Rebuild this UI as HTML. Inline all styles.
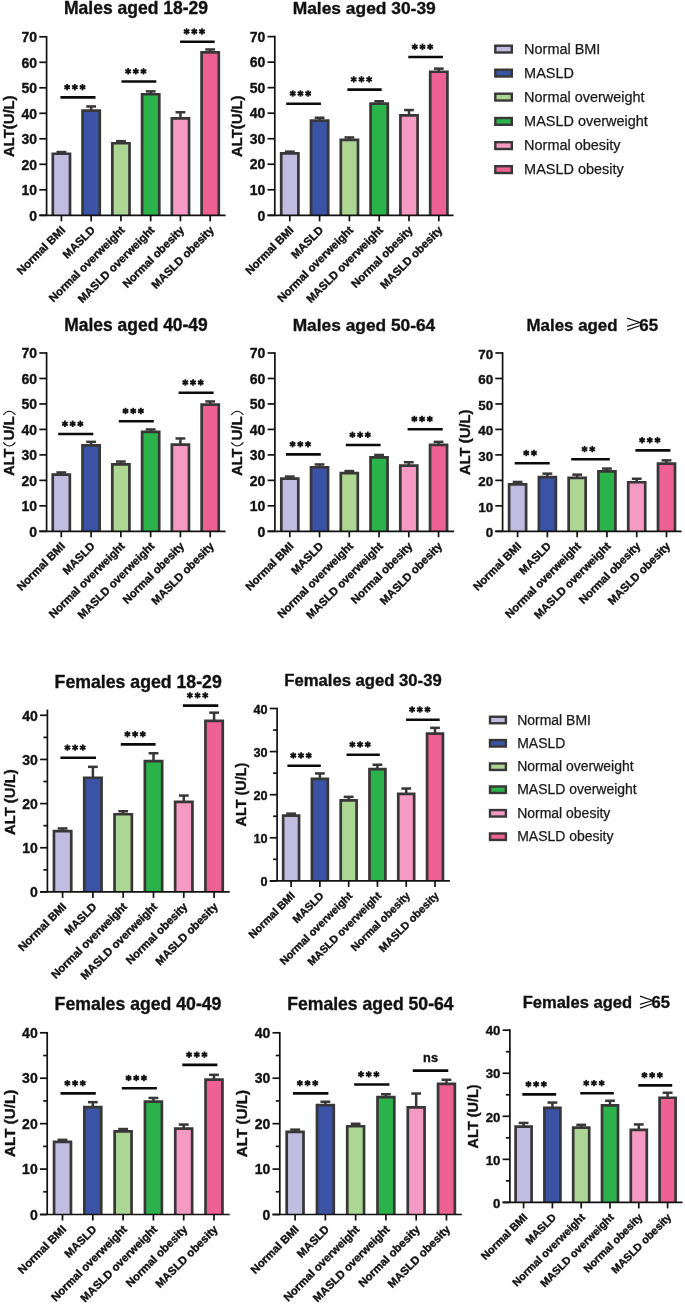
<!DOCTYPE html>
<html><head><meta charset="utf-8"><style>
html,body{margin:0;padding:0;background:#fff;}
body{width:685px;height:1305px;overflow:hidden;}
svg{display:block;will-change:transform;}
text{font-family:"Liberation Sans", sans-serif;fill:#111;stroke:#111;stroke-width:0.35px;}
.ttl{font-size:17.5px;font-weight:bold;}
.yl{font-size:15.2px;font-weight:bold;}
.geq{fill:none;stroke:#111;stroke-width:1.15;stroke-linejoin:miter;}
.fwp{fill:none;stroke:#111;stroke-width:1.1;}
.xl{font-size:11.3px;font-weight:bold;}
.tk{font-size:14px;font-weight:bold;}
.ns{font-size:12.8px;font-weight:bold;}
.lg{font-weight:normal;fill:#1a1a1a;stroke:#1a1a1a;stroke-width:0.25px;}
.ax{stroke:#111;stroke-width:1.7;fill:none;}
.eb{stroke:#383636;stroke-width:2.5;}
.sig{stroke:#0a0a0a;stroke-width:2.6;}
.st line{stroke:#111;stroke-width:1.8;}
</style></head><body>
<svg width="685" height="1305" viewBox="0 0 685 1305">
<rect width="685" height="1305" fill="#fff"/>
<g><text class="ttl" x="63.97" y="14.3" style="font-size:17.52px">Males aged 18-29</text><text class="yl" transform="translate(14.4,126.2) rotate(-90)" text-anchor="middle" style="font-size:14.84px">ALT(U/L)</text><line class="eb" x1="61.4" y1="152.05" x2="61.4" y2="153.75"/><line class="eb" x1="56.5" y1="152.05" x2="66.3" y2="152.05"/><rect x="52.8" y="153.75" width="17.2" height="61.55" fill="#c0bde1"/><path d="M52.8,215.3 V153.75 H70 V215.3" fill="none" stroke="#383636" stroke-width="2.7" stroke-linejoin="miter"/><line class="ax" x1="61.4" y1="215.3" x2="61.4" y2="221.3"/><text class="xl" transform="translate(65.9,230.8) rotate(-45)" text-anchor="end" style="font-size:11.3px">Normal BMI</text><line class="eb" x1="91.16" y1="106.45" x2="91.16" y2="110.65"/><line class="eb" x1="86.26" y1="106.45" x2="96.06" y2="106.45"/><rect x="82.56" y="110.65" width="17.2" height="104.65" fill="#3a53a4"/><path d="M82.56,215.3 V110.65 H99.76 V215.3" fill="none" stroke="#383636" stroke-width="2.7" stroke-linejoin="miter"/><line class="ax" x1="91.16" y1="215.3" x2="91.16" y2="221.3"/><text class="xl" transform="translate(95.66,230.8) rotate(-45)" text-anchor="end" style="font-size:11.3px">MASLD</text><line class="eb" x1="120.92" y1="141.15" x2="120.92" y2="143.25"/><line class="eb" x1="116.02" y1="141.15" x2="125.82" y2="141.15"/><rect x="112.32" y="143.25" width="17.2" height="72.05" fill="#add593"/><path d="M112.32,215.3 V143.25 H129.52 V215.3" fill="none" stroke="#383636" stroke-width="2.7" stroke-linejoin="miter"/><line class="ax" x1="120.92" y1="215.3" x2="120.92" y2="221.3"/><text class="xl" transform="translate(125.42,230.8) rotate(-45)" text-anchor="end" style="font-size:11.3px">Normal overweight</text><line class="eb" x1="150.68" y1="91.35" x2="150.68" y2="94.25"/><line class="eb" x1="145.78" y1="91.35" x2="155.58" y2="91.35"/><rect x="142.08" y="94.25" width="17.2" height="121.05" fill="#2bb24a"/><path d="M142.08,215.3 V94.25 H159.28 V215.3" fill="none" stroke="#383636" stroke-width="2.7" stroke-linejoin="miter"/><line class="ax" x1="150.68" y1="215.3" x2="150.68" y2="221.3"/><text class="xl" transform="translate(155.18,230.8) rotate(-45)" text-anchor="end" style="font-size:11.3px">MASLD overweight</text><line class="eb" x1="180.44" y1="112.25" x2="180.44" y2="118.45"/><line class="eb" x1="175.54" y1="112.25" x2="185.34" y2="112.25"/><rect x="171.84" y="118.45" width="17.2" height="96.85" fill="#f59ac3"/><path d="M171.84,215.3 V118.45 H189.04 V215.3" fill="none" stroke="#383636" stroke-width="2.7" stroke-linejoin="miter"/><line class="ax" x1="180.44" y1="215.3" x2="180.44" y2="221.3"/><text class="xl" transform="translate(184.94,230.8) rotate(-45)" text-anchor="end" style="font-size:11.3px">Normal obesity</text><line class="eb" x1="210.2" y1="49.45" x2="210.2" y2="52.35"/><line class="eb" x1="205.3" y1="49.45" x2="215.1" y2="49.45"/><rect x="201.6" y="52.35" width="17.2" height="162.95" fill="#ee6293"/><path d="M201.6,215.3 V52.35 H218.8 V215.3" fill="none" stroke="#383636" stroke-width="2.7" stroke-linejoin="miter"/><line class="ax" x1="210.2" y1="215.3" x2="210.2" y2="221.3"/><text class="xl" transform="translate(214.7,230.8) rotate(-45)" text-anchor="end" style="font-size:11.3px">MASLD obesity</text><line class="ax" x1="46.6" y1="35.95" x2="46.6" y2="215.3"/><line class="ax" x1="39.3" y1="215.3" x2="225.6" y2="215.3"/><line class="ax" x1="39.3" y1="215.3" x2="46.6" y2="215.3"/><text class="tk" x="37.1" y="220.5" text-anchor="end" style="font-size:14px">0</text><line class="ax" x1="39.3" y1="189.8" x2="46.6" y2="189.8"/><text class="tk" x="37.1" y="195" text-anchor="end" style="font-size:14px">10</text><line class="ax" x1="39.3" y1="164.3" x2="46.6" y2="164.3"/><text class="tk" x="37.1" y="169.5" text-anchor="end" style="font-size:14px">20</text><line class="ax" x1="39.3" y1="138.8" x2="46.6" y2="138.8"/><text class="tk" x="37.1" y="144" text-anchor="end" style="font-size:14px">30</text><line class="ax" x1="39.3" y1="113.3" x2="46.6" y2="113.3"/><text class="tk" x="37.1" y="118.5" text-anchor="end" style="font-size:14px">40</text><line class="ax" x1="39.3" y1="87.8" x2="46.6" y2="87.8"/><text class="tk" x="37.1" y="93" text-anchor="end" style="font-size:14px">50</text><line class="ax" x1="39.3" y1="62.3" x2="46.6" y2="62.3"/><text class="tk" x="37.1" y="67.5" text-anchor="end" style="font-size:14px">60</text><line class="ax" x1="39.3" y1="36.8" x2="46.6" y2="36.8"/><text class="tk" x="37.1" y="42" text-anchor="end" style="font-size:14px">70</text><line class="sig" x1="60.4" y1="97.4" x2="95.5" y2="97.4"/><g class="st"><line x1="67.15" y1="84" x2="67.15" y2="90.4"/><line x1="64.38" y1="85.6" x2="69.92" y2="88.8"/><line x1="69.92" y1="85.6" x2="64.38" y2="88.8"/><line x1="74.85" y1="84" x2="74.85" y2="90.4"/><line x1="72.08" y1="85.6" x2="77.62" y2="88.8"/><line x1="77.62" y1="85.6" x2="72.08" y2="88.8"/><line x1="82.55" y1="84" x2="82.55" y2="90.4"/><line x1="79.78" y1="85.6" x2="85.32" y2="88.8"/><line x1="85.32" y1="85.6" x2="79.78" y2="88.8"/></g><line class="sig" x1="121.5" y1="81.5" x2="156.3" y2="81.5"/><g class="st"><line x1="128.1" y1="68.1" x2="128.1" y2="74.5"/><line x1="125.33" y1="69.7" x2="130.87" y2="72.9"/><line x1="130.87" y1="69.7" x2="125.33" y2="72.9"/><line x1="135.8" y1="68.1" x2="135.8" y2="74.5"/><line x1="133.03" y1="69.7" x2="138.57" y2="72.9"/><line x1="138.57" y1="69.7" x2="133.03" y2="72.9"/><line x1="143.5" y1="68.1" x2="143.5" y2="74.5"/><line x1="140.73" y1="69.7" x2="146.27" y2="72.9"/><line x1="146.27" y1="69.7" x2="140.73" y2="72.9"/></g><line class="sig" x1="180.1" y1="41.7" x2="214.7" y2="41.7"/><g class="st"><line x1="186.6" y1="28.3" x2="186.6" y2="34.7"/><line x1="183.83" y1="29.9" x2="189.37" y2="33.1"/><line x1="189.37" y1="29.9" x2="183.83" y2="33.1"/><line x1="194.3" y1="28.3" x2="194.3" y2="34.7"/><line x1="191.53" y1="29.9" x2="197.07" y2="33.1"/><line x1="197.07" y1="29.9" x2="191.53" y2="33.1"/><line x1="202" y1="28.3" x2="202" y2="34.7"/><line x1="199.23" y1="29.9" x2="204.77" y2="33.1"/><line x1="204.77" y1="29.9" x2="199.23" y2="33.1"/></g></g>
<g><text class="ttl" x="292.7" y="14.1" style="font-size:17.4px">Males aged 30-39</text><text class="yl" transform="translate(242.4,126.2) rotate(-90)" text-anchor="middle" style="font-size:14.84px">ALT(U/L)</text><line class="eb" x1="289.8" y1="151.65" x2="289.8" y2="153.45"/><line class="eb" x1="284.9" y1="151.65" x2="294.7" y2="151.65"/><rect x="281.2" y="153.45" width="17.2" height="61.85" fill="#c0bde1"/><path d="M281.2,215.3 V153.45 H298.4 V215.3" fill="none" stroke="#383636" stroke-width="2.7" stroke-linejoin="miter"/><line class="ax" x1="289.8" y1="215.3" x2="289.8" y2="221.3"/><text class="xl" transform="translate(294.3,230.8) rotate(-45)" text-anchor="end" style="font-size:11.3px">Normal BMI</text><line class="eb" x1="319.6" y1="117.75" x2="319.6" y2="120.65"/><line class="eb" x1="314.7" y1="117.75" x2="324.5" y2="117.75"/><rect x="311" y="120.65" width="17.2" height="94.65" fill="#3a53a4"/><path d="M311,215.3 V120.65 H328.2 V215.3" fill="none" stroke="#383636" stroke-width="2.7" stroke-linejoin="miter"/><line class="ax" x1="319.6" y1="215.3" x2="319.6" y2="221.3"/><text class="xl" transform="translate(324.1,230.8) rotate(-45)" text-anchor="end" style="font-size:11.3px">MASLD</text><line class="eb" x1="349.4" y1="137.45" x2="349.4" y2="139.85"/><line class="eb" x1="344.5" y1="137.45" x2="354.3" y2="137.45"/><rect x="340.8" y="139.85" width="17.2" height="75.45" fill="#add593"/><path d="M340.8,215.3 V139.85 H358 V215.3" fill="none" stroke="#383636" stroke-width="2.7" stroke-linejoin="miter"/><line class="ax" x1="349.4" y1="215.3" x2="349.4" y2="221.3"/><text class="xl" transform="translate(353.9,230.8) rotate(-45)" text-anchor="end" style="font-size:11.3px">Normal overweight</text><line class="eb" x1="379.2" y1="101.25" x2="379.2" y2="103.65"/><line class="eb" x1="374.3" y1="101.25" x2="384.1" y2="101.25"/><rect x="370.6" y="103.65" width="17.2" height="111.65" fill="#2bb24a"/><path d="M370.6,215.3 V103.65 H387.8 V215.3" fill="none" stroke="#383636" stroke-width="2.7" stroke-linejoin="miter"/><line class="ax" x1="379.2" y1="215.3" x2="379.2" y2="221.3"/><text class="xl" transform="translate(383.7,230.8) rotate(-45)" text-anchor="end" style="font-size:11.3px">MASLD overweight</text><line class="eb" x1="409" y1="110.05" x2="409" y2="115.45"/><line class="eb" x1="404.1" y1="110.05" x2="413.9" y2="110.05"/><rect x="400.4" y="115.45" width="17.2" height="99.85" fill="#f59ac3"/><path d="M400.4,215.3 V115.45 H417.6 V215.3" fill="none" stroke="#383636" stroke-width="2.7" stroke-linejoin="miter"/><line class="ax" x1="409" y1="215.3" x2="409" y2="221.3"/><text class="xl" transform="translate(413.5,230.8) rotate(-45)" text-anchor="end" style="font-size:11.3px">Normal obesity</text><line class="eb" x1="438.8" y1="68.65" x2="438.8" y2="71.75"/><line class="eb" x1="433.9" y1="68.65" x2="443.7" y2="68.65"/><rect x="430.2" y="71.75" width="17.2" height="143.55" fill="#ee6293"/><path d="M430.2,215.3 V71.75 H447.4 V215.3" fill="none" stroke="#383636" stroke-width="2.7" stroke-linejoin="miter"/><line class="ax" x1="438.8" y1="215.3" x2="438.8" y2="221.3"/><text class="xl" transform="translate(443.3,230.8) rotate(-45)" text-anchor="end" style="font-size:11.3px">MASLD obesity</text><line class="ax" x1="274.8" y1="35.75" x2="274.8" y2="215.3"/><line class="ax" x1="267.5" y1="215.3" x2="453.5" y2="215.3"/><line class="ax" x1="267.5" y1="215.3" x2="274.8" y2="215.3"/><text class="tk" x="265.3" y="220.5" text-anchor="end" style="font-size:14px">0</text><line class="ax" x1="267.5" y1="189.77" x2="274.8" y2="189.77"/><text class="tk" x="265.3" y="194.97" text-anchor="end" style="font-size:14px">10</text><line class="ax" x1="267.5" y1="164.24" x2="274.8" y2="164.24"/><text class="tk" x="265.3" y="169.44" text-anchor="end" style="font-size:14px">20</text><line class="ax" x1="267.5" y1="138.71" x2="274.8" y2="138.71"/><text class="tk" x="265.3" y="143.91" text-anchor="end" style="font-size:14px">30</text><line class="ax" x1="267.5" y1="113.19" x2="274.8" y2="113.19"/><text class="tk" x="265.3" y="118.39" text-anchor="end" style="font-size:14px">40</text><line class="ax" x1="267.5" y1="87.66" x2="274.8" y2="87.66"/><text class="tk" x="265.3" y="92.86" text-anchor="end" style="font-size:14px">50</text><line class="ax" x1="267.5" y1="62.13" x2="274.8" y2="62.13"/><text class="tk" x="265.3" y="67.33" text-anchor="end" style="font-size:14px">60</text><line class="ax" x1="267.5" y1="36.6" x2="274.8" y2="36.6"/><text class="tk" x="265.3" y="41.8" text-anchor="end" style="font-size:14px">70</text><line class="sig" x1="286.2" y1="103.7" x2="320.9" y2="103.7"/><g class="st"><line x1="292.75" y1="90.3" x2="292.75" y2="96.7"/><line x1="289.98" y1="91.9" x2="295.52" y2="95.1"/><line x1="295.52" y1="91.9" x2="289.98" y2="95.1"/><line x1="300.45" y1="90.3" x2="300.45" y2="96.7"/><line x1="297.68" y1="91.9" x2="303.22" y2="95.1"/><line x1="303.22" y1="91.9" x2="297.68" y2="95.1"/><line x1="308.15" y1="90.3" x2="308.15" y2="96.7"/><line x1="305.38" y1="91.9" x2="310.92" y2="95.1"/><line x1="310.92" y1="91.9" x2="305.38" y2="95.1"/></g><line class="sig" x1="347.4" y1="89.6" x2="381.7" y2="89.6"/><g class="st"><line x1="353.75" y1="76.2" x2="353.75" y2="82.6"/><line x1="350.98" y1="77.8" x2="356.52" y2="81"/><line x1="356.52" y1="77.8" x2="350.98" y2="81"/><line x1="361.45" y1="76.2" x2="361.45" y2="82.6"/><line x1="358.68" y1="77.8" x2="364.22" y2="81"/><line x1="364.22" y1="77.8" x2="358.68" y2="81"/><line x1="369.15" y1="76.2" x2="369.15" y2="82.6"/><line x1="366.38" y1="77.8" x2="371.92" y2="81"/><line x1="371.92" y1="77.8" x2="366.38" y2="81"/></g><line class="sig" x1="408.3" y1="57" x2="442.9" y2="57"/><g class="st"><line x1="414.8" y1="43.6" x2="414.8" y2="50"/><line x1="412.03" y1="45.2" x2="417.57" y2="48.4"/><line x1="417.57" y1="45.2" x2="412.03" y2="48.4"/><line x1="422.5" y1="43.6" x2="422.5" y2="50"/><line x1="419.73" y1="45.2" x2="425.27" y2="48.4"/><line x1="425.27" y1="45.2" x2="419.73" y2="48.4"/><line x1="430.2" y1="43.6" x2="430.2" y2="50"/><line x1="427.43" y1="45.2" x2="432.97" y2="48.4"/><line x1="432.97" y1="45.2" x2="427.43" y2="48.4"/></g></g>
<g><text class="ttl" x="64.3" y="330.5" style="font-size:17.46px">Males aged 40-49</text><g transform="translate(14.4,475.4) rotate(-90)"><text class="yl" transform="translate(-0.4,0) scale(0.955,1)">ALT</text><text class="yl" x="34.8" y="0">U/L</text><path class="fwp" d="M33,-11.2 Q25.8,-5.1 33,1"/><path class="fwp" d="M60.6,-11.2 Q67.8,-5.1 60.6,1"/></g><line class="eb" x1="61.3" y1="472.45" x2="61.3" y2="474.55"/><line class="eb" x1="56.4" y1="472.45" x2="66.2" y2="472.45"/><rect x="52.75" y="474.55" width="17.1" height="56.75" fill="#c0bde1"/><path d="M52.75,531.3 V474.55 H69.85 V531.3" fill="none" stroke="#383636" stroke-width="2.7" stroke-linejoin="miter"/><line class="ax" x1="61.3" y1="531.3" x2="61.3" y2="537.3"/><text class="xl" transform="translate(65.8,546.8) rotate(-45)" text-anchor="end" style="font-size:11.3px">Normal BMI</text><line class="eb" x1="91.08" y1="441.85" x2="91.08" y2="445.35"/><line class="eb" x1="86.18" y1="441.85" x2="95.98" y2="441.85"/><rect x="82.53" y="445.35" width="17.1" height="85.95" fill="#3a53a4"/><path d="M82.53,531.3 V445.35 H99.63 V531.3" fill="none" stroke="#383636" stroke-width="2.7" stroke-linejoin="miter"/><line class="ax" x1="91.08" y1="531.3" x2="91.08" y2="537.3"/><text class="xl" transform="translate(95.58,546.8) rotate(-45)" text-anchor="end" style="font-size:11.3px">MASLD</text><line class="eb" x1="120.86" y1="461.55" x2="120.86" y2="464.35"/><line class="eb" x1="115.96" y1="461.55" x2="125.76" y2="461.55"/><rect x="112.31" y="464.35" width="17.1" height="66.95" fill="#add593"/><path d="M112.31,531.3 V464.35 H129.41 V531.3" fill="none" stroke="#383636" stroke-width="2.7" stroke-linejoin="miter"/><line class="ax" x1="120.86" y1="531.3" x2="120.86" y2="537.3"/><text class="xl" transform="translate(125.36,546.8) rotate(-45)" text-anchor="end" style="font-size:11.3px">Normal overweight</text><line class="eb" x1="150.64" y1="429.45" x2="150.64" y2="431.95"/><line class="eb" x1="145.74" y1="429.45" x2="155.54" y2="429.45"/><rect x="142.09" y="431.95" width="17.1" height="99.35" fill="#2bb24a"/><path d="M142.09,531.3 V431.95 H159.19 V531.3" fill="none" stroke="#383636" stroke-width="2.7" stroke-linejoin="miter"/><line class="ax" x1="150.64" y1="531.3" x2="150.64" y2="537.3"/><text class="xl" transform="translate(155.14,546.8) rotate(-45)" text-anchor="end" style="font-size:11.3px">MASLD overweight</text><line class="eb" x1="180.42" y1="438.45" x2="180.42" y2="444.65"/><line class="eb" x1="175.52" y1="438.45" x2="185.32" y2="438.45"/><rect x="171.87" y="444.65" width="17.1" height="86.65" fill="#f59ac3"/><path d="M171.87,531.3 V444.65 H188.97 V531.3" fill="none" stroke="#383636" stroke-width="2.7" stroke-linejoin="miter"/><line class="ax" x1="180.42" y1="531.3" x2="180.42" y2="537.3"/><text class="xl" transform="translate(184.92,546.8) rotate(-45)" text-anchor="end" style="font-size:11.3px">Normal obesity</text><line class="eb" x1="210.2" y1="401.45" x2="210.2" y2="404.55"/><line class="eb" x1="205.3" y1="401.45" x2="215.1" y2="401.45"/><rect x="201.65" y="404.55" width="17.1" height="126.75" fill="#ee6293"/><path d="M201.65,531.3 V404.55 H218.75 V531.3" fill="none" stroke="#383636" stroke-width="2.7" stroke-linejoin="miter"/><line class="ax" x1="210.2" y1="531.3" x2="210.2" y2="537.3"/><text class="xl" transform="translate(214.7,546.8) rotate(-45)" text-anchor="end" style="font-size:11.3px">MASLD obesity</text><line class="ax" x1="46.6" y1="352.15" x2="46.6" y2="531.3"/><line class="ax" x1="39.3" y1="531.3" x2="225.6" y2="531.3"/><line class="ax" x1="39.3" y1="531.3" x2="46.6" y2="531.3"/><text class="tk" x="37.1" y="536.5" text-anchor="end" style="font-size:14px">0</text><line class="ax" x1="39.3" y1="505.83" x2="46.6" y2="505.83"/><text class="tk" x="37.1" y="511.03" text-anchor="end" style="font-size:14px">10</text><line class="ax" x1="39.3" y1="480.36" x2="46.6" y2="480.36"/><text class="tk" x="37.1" y="485.56" text-anchor="end" style="font-size:14px">20</text><line class="ax" x1="39.3" y1="454.89" x2="46.6" y2="454.89"/><text class="tk" x="37.1" y="460.09" text-anchor="end" style="font-size:14px">30</text><line class="ax" x1="39.3" y1="429.41" x2="46.6" y2="429.41"/><text class="tk" x="37.1" y="434.61" text-anchor="end" style="font-size:14px">40</text><line class="ax" x1="39.3" y1="403.94" x2="46.6" y2="403.94"/><text class="tk" x="37.1" y="409.14" text-anchor="end" style="font-size:14px">50</text><line class="ax" x1="39.3" y1="378.47" x2="46.6" y2="378.47"/><text class="tk" x="37.1" y="383.67" text-anchor="end" style="font-size:14px">60</text><line class="ax" x1="39.3" y1="353" x2="46.6" y2="353"/><text class="tk" x="37.1" y="358.2" text-anchor="end" style="font-size:14px">70</text><line class="sig" x1="58.2" y1="434" x2="93.3" y2="434"/><g class="st"><line x1="64.95" y1="420.6" x2="64.95" y2="427"/><line x1="62.18" y1="422.2" x2="67.72" y2="425.4"/><line x1="67.72" y1="422.2" x2="62.18" y2="425.4"/><line x1="72.65" y1="420.6" x2="72.65" y2="427"/><line x1="69.88" y1="422.2" x2="75.42" y2="425.4"/><line x1="75.42" y1="422.2" x2="69.88" y2="425.4"/><line x1="80.35" y1="420.6" x2="80.35" y2="427"/><line x1="77.58" y1="422.2" x2="83.12" y2="425.4"/><line x1="83.12" y1="422.2" x2="77.58" y2="425.4"/></g><line class="sig" x1="118.8" y1="421.2" x2="153.8" y2="421.2"/><g class="st"><line x1="125.5" y1="407.8" x2="125.5" y2="414.2"/><line x1="122.73" y1="409.4" x2="128.27" y2="412.6"/><line x1="128.27" y1="409.4" x2="122.73" y2="412.6"/><line x1="133.2" y1="407.8" x2="133.2" y2="414.2"/><line x1="130.43" y1="409.4" x2="135.97" y2="412.6"/><line x1="135.97" y1="409.4" x2="130.43" y2="412.6"/><line x1="140.9" y1="407.8" x2="140.9" y2="414.2"/><line x1="138.13" y1="409.4" x2="143.67" y2="412.6"/><line x1="143.67" y1="409.4" x2="138.13" y2="412.6"/></g><line class="sig" x1="178.6" y1="392.7" x2="213.6" y2="392.7"/><g class="st"><line x1="185.3" y1="379.3" x2="185.3" y2="385.7"/><line x1="182.53" y1="380.9" x2="188.07" y2="384.1"/><line x1="188.07" y1="380.9" x2="182.53" y2="384.1"/><line x1="193" y1="379.3" x2="193" y2="385.7"/><line x1="190.23" y1="380.9" x2="195.77" y2="384.1"/><line x1="195.77" y1="380.9" x2="190.23" y2="384.1"/><line x1="200.7" y1="379.3" x2="200.7" y2="385.7"/><line x1="197.93" y1="380.9" x2="203.47" y2="384.1"/><line x1="203.47" y1="380.9" x2="197.93" y2="384.1"/></g></g>
<g><text class="ttl" x="292.7" y="330.5" style="font-size:17.34px">Males aged 50-64</text><g transform="translate(242.4,475.4) rotate(-90)"><text class="yl" transform="translate(-0.4,0) scale(0.955,1)">ALT</text><text class="yl" x="34.8" y="0">U/L</text><path class="fwp" d="M33,-11.2 Q25.8,-5.1 33,1"/><path class="fwp" d="M60.6,-11.2 Q67.8,-5.1 60.6,1"/></g><line class="eb" x1="289.8" y1="476.55" x2="289.8" y2="478.65"/><line class="eb" x1="284.9" y1="476.55" x2="294.7" y2="476.55"/><rect x="281.3" y="478.65" width="17" height="52.65" fill="#c0bde1"/><path d="M281.3,531.3 V478.65 H298.3 V531.3" fill="none" stroke="#383636" stroke-width="2.7" stroke-linejoin="miter"/><line class="ax" x1="289.8" y1="531.3" x2="289.8" y2="537.3"/><text class="xl" transform="translate(294.3,546.8) rotate(-45)" text-anchor="end" style="font-size:11.3px">Normal BMI</text><line class="eb" x1="319.55" y1="464.45" x2="319.55" y2="467.25"/><line class="eb" x1="314.65" y1="464.45" x2="324.45" y2="464.45"/><rect x="311.05" y="467.25" width="17" height="64.05" fill="#3a53a4"/><path d="M311.05,531.3 V467.25 H328.05 V531.3" fill="none" stroke="#383636" stroke-width="2.7" stroke-linejoin="miter"/><line class="ax" x1="319.55" y1="531.3" x2="319.55" y2="537.3"/><text class="xl" transform="translate(324.05,546.8) rotate(-45)" text-anchor="end" style="font-size:11.3px">MASLD</text><line class="eb" x1="349.3" y1="471.05" x2="349.3" y2="473.15"/><line class="eb" x1="344.4" y1="471.05" x2="354.2" y2="471.05"/><rect x="340.8" y="473.15" width="17" height="58.15" fill="#add593"/><path d="M340.8,531.3 V473.15 H357.8 V531.3" fill="none" stroke="#383636" stroke-width="2.7" stroke-linejoin="miter"/><line class="ax" x1="349.3" y1="531.3" x2="349.3" y2="537.3"/><text class="xl" transform="translate(353.8,546.8) rotate(-45)" text-anchor="end" style="font-size:11.3px">Normal overweight</text><line class="eb" x1="379.05" y1="454.95" x2="379.05" y2="457.35"/><line class="eb" x1="374.15" y1="454.95" x2="383.95" y2="454.95"/><rect x="370.55" y="457.35" width="17" height="73.95" fill="#2bb24a"/><path d="M370.55,531.3 V457.35 H387.55 V531.3" fill="none" stroke="#383636" stroke-width="2.7" stroke-linejoin="miter"/><line class="ax" x1="379.05" y1="531.3" x2="379.05" y2="537.3"/><text class="xl" transform="translate(383.55,546.8) rotate(-45)" text-anchor="end" style="font-size:11.3px">MASLD overweight</text><line class="eb" x1="408.8" y1="462.25" x2="408.8" y2="465.55"/><line class="eb" x1="403.9" y1="462.25" x2="413.7" y2="462.25"/><rect x="400.3" y="465.55" width="17" height="65.75" fill="#f59ac3"/><path d="M400.3,531.3 V465.55 H417.3 V531.3" fill="none" stroke="#383636" stroke-width="2.7" stroke-linejoin="miter"/><line class="ax" x1="408.8" y1="531.3" x2="408.8" y2="537.3"/><text class="xl" transform="translate(413.3,546.8) rotate(-45)" text-anchor="end" style="font-size:11.3px">Normal obesity</text><line class="eb" x1="438.55" y1="441.85" x2="438.55" y2="444.95"/><line class="eb" x1="433.65" y1="441.85" x2="443.45" y2="441.85"/><rect x="430.05" y="444.95" width="17" height="86.35" fill="#ee6293"/><path d="M430.05,531.3 V444.95 H447.05 V531.3" fill="none" stroke="#383636" stroke-width="2.7" stroke-linejoin="miter"/><line class="ax" x1="438.55" y1="531.3" x2="438.55" y2="537.3"/><text class="xl" transform="translate(443.05,546.8) rotate(-45)" text-anchor="end" style="font-size:11.3px">MASLD obesity</text><line class="ax" x1="274.9" y1="352.15" x2="274.9" y2="531.3"/><line class="ax" x1="267.6" y1="531.3" x2="454.1" y2="531.3"/><line class="ax" x1="267.6" y1="531.3" x2="274.9" y2="531.3"/><text class="tk" x="265.4" y="536.5" text-anchor="end" style="font-size:14px">0</text><line class="ax" x1="267.6" y1="505.83" x2="274.9" y2="505.83"/><text class="tk" x="265.4" y="511.03" text-anchor="end" style="font-size:14px">10</text><line class="ax" x1="267.6" y1="480.36" x2="274.9" y2="480.36"/><text class="tk" x="265.4" y="485.56" text-anchor="end" style="font-size:14px">20</text><line class="ax" x1="267.6" y1="454.89" x2="274.9" y2="454.89"/><text class="tk" x="265.4" y="460.09" text-anchor="end" style="font-size:14px">30</text><line class="ax" x1="267.6" y1="429.41" x2="274.9" y2="429.41"/><text class="tk" x="265.4" y="434.61" text-anchor="end" style="font-size:14px">40</text><line class="ax" x1="267.6" y1="403.94" x2="274.9" y2="403.94"/><text class="tk" x="265.4" y="409.14" text-anchor="end" style="font-size:14px">50</text><line class="ax" x1="267.6" y1="378.47" x2="274.9" y2="378.47"/><text class="tk" x="265.4" y="383.67" text-anchor="end" style="font-size:14px">60</text><line class="ax" x1="267.6" y1="353" x2="274.9" y2="353"/><text class="tk" x="265.4" y="358.2" text-anchor="end" style="font-size:14px">70</text><line class="sig" x1="286" y1="454.4" x2="320.8" y2="454.4"/><g class="st"><line x1="292.6" y1="441" x2="292.6" y2="447.4"/><line x1="289.83" y1="442.6" x2="295.37" y2="445.8"/><line x1="295.37" y1="442.6" x2="289.83" y2="445.8"/><line x1="300.3" y1="441" x2="300.3" y2="447.4"/><line x1="297.53" y1="442.6" x2="303.07" y2="445.8"/><line x1="303.07" y1="442.6" x2="297.53" y2="445.8"/><line x1="308" y1="441" x2="308" y2="447.4"/><line x1="305.23" y1="442.6" x2="310.77" y2="445.8"/><line x1="310.77" y1="442.6" x2="305.23" y2="445.8"/></g><line class="sig" x1="345.8" y1="445" x2="380.6" y2="445"/><g class="st"><line x1="352.4" y1="431.6" x2="352.4" y2="438"/><line x1="349.63" y1="433.2" x2="355.17" y2="436.4"/><line x1="355.17" y1="433.2" x2="349.63" y2="436.4"/><line x1="360.1" y1="431.6" x2="360.1" y2="438"/><line x1="357.33" y1="433.2" x2="362.87" y2="436.4"/><line x1="362.87" y1="433.2" x2="357.33" y2="436.4"/><line x1="367.8" y1="431.6" x2="367.8" y2="438"/><line x1="365.03" y1="433.2" x2="370.57" y2="436.4"/><line x1="370.57" y1="433.2" x2="365.03" y2="436.4"/></g><line class="sig" x1="407.6" y1="429.2" x2="442.7" y2="429.2"/><g class="st"><line x1="414.35" y1="415.8" x2="414.35" y2="422.2"/><line x1="411.58" y1="417.4" x2="417.12" y2="420.6"/><line x1="417.12" y1="417.4" x2="411.58" y2="420.6"/><line x1="422.05" y1="415.8" x2="422.05" y2="422.2"/><line x1="419.28" y1="417.4" x2="424.82" y2="420.6"/><line x1="424.82" y1="417.4" x2="419.28" y2="420.6"/><line x1="429.75" y1="415.8" x2="429.75" y2="422.2"/><line x1="426.98" y1="417.4" x2="432.52" y2="420.6"/><line x1="432.52" y1="417.4" x2="426.98" y2="420.6"/></g></g>
<g><text class="ttl" x="526.5" y="330.5" style="font-size:16.9px">Males aged</text><text class="ttl" x="639.3" y="330.5" style="font-size:16.9px">65</text><path class="geq" d="M627.1,318.1 L639.7,322.5 L627.1,326.4 M627.1,330.15 L639.5,325.7"/><text class="yl" transform="translate(470,442.3) rotate(-90)" text-anchor="middle" style="font-size:14.8px">ALT (U/L)</text><line class="eb" x1="517.6" y1="481.95" x2="517.6" y2="484.45"/><line class="eb" x1="512.7" y1="481.95" x2="522.5" y2="481.95"/><rect x="509.1" y="484.45" width="17" height="46.85" fill="#c0bde1"/><path d="M509.1,531.3 V484.45 H526.1 V531.3" fill="none" stroke="#383636" stroke-width="2.7" stroke-linejoin="miter"/><line class="ax" x1="517.6" y1="531.3" x2="517.6" y2="537.3"/><text class="xl" transform="translate(522.1,546.8) rotate(-45)" text-anchor="end" style="font-size:11.3px">Normal BMI</text><line class="eb" x1="547.38" y1="473.65" x2="547.38" y2="477.05"/><line class="eb" x1="542.48" y1="473.65" x2="552.28" y2="473.65"/><rect x="538.88" y="477.05" width="17" height="54.25" fill="#3a53a4"/><path d="M538.88,531.3 V477.05 H555.88 V531.3" fill="none" stroke="#383636" stroke-width="2.7" stroke-linejoin="miter"/><line class="ax" x1="547.38" y1="531.3" x2="547.38" y2="537.3"/><text class="xl" transform="translate(551.88,546.8) rotate(-45)" text-anchor="end" style="font-size:11.3px">MASLD</text><line class="eb" x1="577.16" y1="474.65" x2="577.16" y2="477.95"/><line class="eb" x1="572.26" y1="474.65" x2="582.06" y2="474.65"/><rect x="568.66" y="477.95" width="17" height="53.35" fill="#add593"/><path d="M568.66,531.3 V477.95 H585.66 V531.3" fill="none" stroke="#383636" stroke-width="2.7" stroke-linejoin="miter"/><line class="ax" x1="577.16" y1="531.3" x2="577.16" y2="537.3"/><text class="xl" transform="translate(581.66,546.8) rotate(-45)" text-anchor="end" style="font-size:11.3px">Normal overweight</text><line class="eb" x1="606.94" y1="468.55" x2="606.94" y2="471.35"/><line class="eb" x1="602.04" y1="468.55" x2="611.84" y2="468.55"/><rect x="598.44" y="471.35" width="17" height="59.95" fill="#2bb24a"/><path d="M598.44,531.3 V471.35 H615.44 V531.3" fill="none" stroke="#383636" stroke-width="2.7" stroke-linejoin="miter"/><line class="ax" x1="606.94" y1="531.3" x2="606.94" y2="537.3"/><text class="xl" transform="translate(611.44,546.8) rotate(-45)" text-anchor="end" style="font-size:11.3px">MASLD overweight</text><line class="eb" x1="636.72" y1="478.75" x2="636.72" y2="482.25"/><line class="eb" x1="631.82" y1="478.75" x2="641.62" y2="478.75"/><rect x="628.22" y="482.25" width="17" height="49.05" fill="#f59ac3"/><path d="M628.22,531.3 V482.25 H645.22 V531.3" fill="none" stroke="#383636" stroke-width="2.7" stroke-linejoin="miter"/><line class="ax" x1="636.72" y1="531.3" x2="636.72" y2="537.3"/><text class="xl" transform="translate(641.22,546.8) rotate(-45)" text-anchor="end" style="font-size:11.3px">Normal obesity</text><line class="eb" x1="666.5" y1="460.35" x2="666.5" y2="463.65"/><line class="eb" x1="661.6" y1="460.35" x2="671.4" y2="460.35"/><rect x="658" y="463.65" width="17" height="67.65" fill="#ee6293"/><path d="M658,531.3 V463.65 H675 V531.3" fill="none" stroke="#383636" stroke-width="2.7" stroke-linejoin="miter"/><line class="ax" x1="666.5" y1="531.3" x2="666.5" y2="537.3"/><text class="xl" transform="translate(671,546.8) rotate(-45)" text-anchor="end" style="font-size:11.3px">MASLD obesity</text><line class="ax" x1="502.6" y1="352.15" x2="502.6" y2="531.3"/><line class="ax" x1="495.3" y1="531.3" x2="681.6" y2="531.3"/><line class="ax" x1="495.3" y1="531.3" x2="502.6" y2="531.3"/><text class="tk" x="493.1" y="537" text-anchor="end" style="font-size:13.4px">0</text><line class="ax" x1="495.3" y1="505.83" x2="502.6" y2="505.83"/><text class="tk" x="493.1" y="511.53" text-anchor="end" style="font-size:13.4px">10</text><line class="ax" x1="495.3" y1="480.36" x2="502.6" y2="480.36"/><text class="tk" x="493.1" y="486.06" text-anchor="end" style="font-size:13.4px">20</text><line class="ax" x1="495.3" y1="454.89" x2="502.6" y2="454.89"/><text class="tk" x="493.1" y="460.59" text-anchor="end" style="font-size:13.4px">30</text><line class="ax" x1="495.3" y1="429.41" x2="502.6" y2="429.41"/><text class="tk" x="493.1" y="435.11" text-anchor="end" style="font-size:13.4px">40</text><line class="ax" x1="495.3" y1="403.94" x2="502.6" y2="403.94"/><text class="tk" x="493.1" y="409.64" text-anchor="end" style="font-size:13.4px">50</text><line class="ax" x1="495.3" y1="378.47" x2="502.6" y2="378.47"/><text class="tk" x="493.1" y="384.17" text-anchor="end" style="font-size:13.4px">60</text><line class="ax" x1="495.3" y1="353" x2="502.6" y2="353"/><text class="tk" x="493.1" y="358.7" text-anchor="end" style="font-size:13.4px">70</text><line class="sig" x1="514.7" y1="463.2" x2="549.7" y2="463.2"/><g class="st"><line x1="526.25" y1="449.8" x2="526.25" y2="456.2"/><line x1="523.48" y1="451.4" x2="529.02" y2="454.6"/><line x1="529.02" y1="451.4" x2="523.48" y2="454.6"/><line x1="533.95" y1="449.8" x2="533.95" y2="456.2"/><line x1="531.18" y1="451.4" x2="536.72" y2="454.6"/><line x1="536.72" y1="451.4" x2="531.18" y2="454.6"/></g><line class="sig" x1="571.2" y1="459.3" x2="609.8" y2="459.3"/><g class="st"><line x1="584.55" y1="445.9" x2="584.55" y2="452.3"/><line x1="581.78" y1="447.5" x2="587.32" y2="450.7"/><line x1="587.32" y1="447.5" x2="581.78" y2="450.7"/><line x1="592.25" y1="445.9" x2="592.25" y2="452.3"/><line x1="589.48" y1="447.5" x2="595.02" y2="450.7"/><line x1="595.02" y1="447.5" x2="589.48" y2="450.7"/></g><line class="sig" x1="635.4" y1="450.4" x2="670.4" y2="450.4"/><g class="st"><line x1="642.1" y1="437" x2="642.1" y2="443.4"/><line x1="639.33" y1="438.6" x2="644.87" y2="441.8"/><line x1="644.87" y1="438.6" x2="639.33" y2="441.8"/><line x1="649.8" y1="437" x2="649.8" y2="443.4"/><line x1="647.03" y1="438.6" x2="652.57" y2="441.8"/><line x1="652.57" y1="438.6" x2="647.03" y2="441.8"/><line x1="657.5" y1="437" x2="657.5" y2="443.4"/><line x1="654.73" y1="438.6" x2="660.27" y2="441.8"/><line x1="660.27" y1="438.6" x2="654.73" y2="441.8"/></g></g>
<g><text class="ttl" x="54.6" y="687.5" style="font-size:17.7px">Females aged 18-29</text><text class="yl" transform="translate(14.7,802.2) rotate(-90)" text-anchor="middle" style="font-size:14.87px">ALT (U/L)</text><line class="eb" x1="62.6" y1="828.45" x2="62.6" y2="831.15"/><line class="eb" x1="57.7" y1="828.45" x2="67.5" y2="828.45"/><rect x="53.95" y="831.15" width="17.3" height="60.75" fill="#c0bde1"/><path d="M53.95,891.9 V831.15 H71.25 V891.9" fill="none" stroke="#383636" stroke-width="2.7" stroke-linejoin="miter"/><line class="ax" x1="62.6" y1="891.9" x2="62.6" y2="897.9"/><text class="xl" transform="translate(67.1,907.4) rotate(-45)" text-anchor="end" style="font-size:11.3px">Normal BMI</text><line class="eb" x1="92.9" y1="766.85" x2="92.9" y2="777.75"/><line class="eb" x1="88" y1="766.85" x2="97.8" y2="766.85"/><rect x="84.25" y="777.75" width="17.3" height="114.15" fill="#3a53a4"/><path d="M84.25,891.9 V777.75 H101.55 V891.9" fill="none" stroke="#383636" stroke-width="2.7" stroke-linejoin="miter"/><line class="ax" x1="92.9" y1="891.9" x2="92.9" y2="897.9"/><text class="xl" transform="translate(97.4,907.4) rotate(-45)" text-anchor="end" style="font-size:11.3px">MASLD</text><line class="eb" x1="123.2" y1="811.25" x2="123.2" y2="814.25"/><line class="eb" x1="118.3" y1="811.25" x2="128.1" y2="811.25"/><rect x="114.55" y="814.25" width="17.3" height="77.65" fill="#add593"/><path d="M114.55,891.9 V814.25 H131.85 V891.9" fill="none" stroke="#383636" stroke-width="2.7" stroke-linejoin="miter"/><line class="ax" x1="123.2" y1="891.9" x2="123.2" y2="897.9"/><text class="xl" transform="translate(127.7,907.4) rotate(-45)" text-anchor="end" style="font-size:11.3px">Normal overweight</text><line class="eb" x1="153.5" y1="753.25" x2="153.5" y2="761.15"/><line class="eb" x1="148.6" y1="753.25" x2="158.4" y2="753.25"/><rect x="144.85" y="761.15" width="17.3" height="130.75" fill="#2bb24a"/><path d="M144.85,891.9 V761.15 H162.15 V891.9" fill="none" stroke="#383636" stroke-width="2.7" stroke-linejoin="miter"/><line class="ax" x1="153.5" y1="891.9" x2="153.5" y2="897.9"/><text class="xl" transform="translate(158,907.4) rotate(-45)" text-anchor="end" style="font-size:11.3px">MASLD overweight</text><line class="eb" x1="183.8" y1="795.55" x2="183.8" y2="801.85"/><line class="eb" x1="178.9" y1="795.55" x2="188.7" y2="795.55"/><rect x="175.15" y="801.85" width="17.3" height="90.05" fill="#f59ac3"/><path d="M175.15,891.9 V801.85 H192.45 V891.9" fill="none" stroke="#383636" stroke-width="2.7" stroke-linejoin="miter"/><line class="ax" x1="183.8" y1="891.9" x2="183.8" y2="897.9"/><text class="xl" transform="translate(188.3,907.4) rotate(-45)" text-anchor="end" style="font-size:11.3px">Normal obesity</text><line class="eb" x1="214.1" y1="712.65" x2="214.1" y2="720.95"/><line class="eb" x1="209.2" y1="712.65" x2="219" y2="712.65"/><rect x="205.45" y="720.95" width="17.3" height="170.95" fill="#ee6293"/><path d="M205.45,891.9 V720.95 H222.75 V891.9" fill="none" stroke="#383636" stroke-width="2.7" stroke-linejoin="miter"/><line class="ax" x1="214.1" y1="891.9" x2="214.1" y2="897.9"/><text class="xl" transform="translate(218.6,907.4) rotate(-45)" text-anchor="end" style="font-size:11.3px">MASLD obesity</text><line class="ax" x1="47.4" y1="709.55" x2="47.4" y2="891.9"/><line class="ax" x1="40.1" y1="891.9" x2="229.7" y2="891.9"/><line class="ax" x1="40.1" y1="891.9" x2="47.4" y2="891.9"/><text class="tk" x="37.9" y="897.1" text-anchor="end" style="font-size:14px">0</text><line class="ax" x1="40.1" y1="847.75" x2="47.4" y2="847.75"/><text class="tk" x="37.9" y="852.95" text-anchor="end" style="font-size:14px">10</text><line class="ax" x1="40.1" y1="803.6" x2="47.4" y2="803.6"/><text class="tk" x="37.9" y="808.8" text-anchor="end" style="font-size:14px">20</text><line class="ax" x1="40.1" y1="759.45" x2="47.4" y2="759.45"/><text class="tk" x="37.9" y="764.65" text-anchor="end" style="font-size:14px">30</text><line class="ax" x1="40.1" y1="715.3" x2="47.4" y2="715.3"/><text class="tk" x="37.9" y="720.5" text-anchor="end" style="font-size:14px">40</text><line class="ax" x1="43.4" y1="869.82" x2="47.4" y2="869.82"/><line class="ax" x1="43.4" y1="825.67" x2="47.4" y2="825.67"/><line class="ax" x1="43.4" y1="781.52" x2="47.4" y2="781.52"/><line class="ax" x1="43.4" y1="737.38" x2="47.4" y2="737.38"/><line class="sig" x1="60.4" y1="757.8" x2="96" y2="757.8"/><g class="st"><line x1="67.4" y1="744.4" x2="67.4" y2="750.8"/><line x1="64.63" y1="746" x2="70.17" y2="749.2"/><line x1="70.17" y1="746" x2="64.63" y2="749.2"/><line x1="75.1" y1="744.4" x2="75.1" y2="750.8"/><line x1="72.33" y1="746" x2="77.87" y2="749.2"/><line x1="77.87" y1="746" x2="72.33" y2="749.2"/><line x1="82.8" y1="744.4" x2="82.8" y2="750.8"/><line x1="80.03" y1="746" x2="85.57" y2="749.2"/><line x1="85.57" y1="746" x2="80.03" y2="749.2"/></g><line class="sig" x1="120.8" y1="744.4" x2="155.6" y2="744.4"/><g class="st"><line x1="127.4" y1="731" x2="127.4" y2="737.4"/><line x1="124.63" y1="732.6" x2="130.17" y2="735.8"/><line x1="130.17" y1="732.6" x2="124.63" y2="735.8"/><line x1="135.1" y1="731" x2="135.1" y2="737.4"/><line x1="132.33" y1="732.6" x2="137.87" y2="735.8"/><line x1="137.87" y1="732.6" x2="132.33" y2="735.8"/><line x1="142.8" y1="731" x2="142.8" y2="737.4"/><line x1="140.03" y1="732.6" x2="145.57" y2="735.8"/><line x1="145.57" y1="732.6" x2="140.03" y2="735.8"/></g><line class="sig" x1="183" y1="705.6" x2="218.3" y2="705.6"/><g class="st"><line x1="189.85" y1="692.2" x2="189.85" y2="698.6"/><line x1="187.08" y1="693.8" x2="192.62" y2="697"/><line x1="192.62" y1="693.8" x2="187.08" y2="697"/><line x1="197.55" y1="692.2" x2="197.55" y2="698.6"/><line x1="194.78" y1="693.8" x2="200.32" y2="697"/><line x1="200.32" y1="693.8" x2="194.78" y2="697"/><line x1="205.25" y1="692.2" x2="205.25" y2="698.6"/><line x1="202.48" y1="693.8" x2="208.02" y2="697"/><line x1="208.02" y1="693.8" x2="202.48" y2="697"/></g></g>
<g><text class="ttl" x="284.3" y="685.9" style="font-size:16.66px">Females aged 30-39</text><text class="yl" transform="translate(245.8,794.6) rotate(-90)" text-anchor="middle" style="font-size:14.44px">ALT (U/L)</text><line class="eb" x1="291.1" y1="813.65" x2="291.1" y2="815.65"/><line class="eb" x1="286.2" y1="813.65" x2="296" y2="813.65"/><rect x="283.15" y="815.65" width="15.9" height="65.25" fill="#c0bde1"/><path d="M283.15,880.9 V815.65 H299.05 V880.9" fill="none" stroke="#383636" stroke-width="2.7" stroke-linejoin="miter"/><line class="ax" x1="291.1" y1="880.9" x2="291.1" y2="886.9"/><text class="xl" transform="translate(295.6,896.4) rotate(-45)" text-anchor="end" style="font-size:10.85px">Normal BMI</text><line class="eb" x1="319.88" y1="773.45" x2="319.88" y2="778.95"/><line class="eb" x1="314.98" y1="773.45" x2="324.78" y2="773.45"/><rect x="311.93" y="778.95" width="15.9" height="101.95" fill="#3a53a4"/><path d="M311.93,880.9 V778.95 H327.83 V880.9" fill="none" stroke="#383636" stroke-width="2.7" stroke-linejoin="miter"/><line class="ax" x1="319.88" y1="880.9" x2="319.88" y2="886.9"/><text class="xl" transform="translate(324.38,896.4) rotate(-45)" text-anchor="end" style="font-size:10.85px">MASLD</text><line class="eb" x1="348.66" y1="796.85" x2="348.66" y2="800.35"/><line class="eb" x1="343.76" y1="796.85" x2="353.56" y2="796.85"/><rect x="340.71" y="800.35" width="15.9" height="80.55" fill="#add593"/><path d="M340.71,880.9 V800.35 H356.61 V880.9" fill="none" stroke="#383636" stroke-width="2.7" stroke-linejoin="miter"/><line class="ax" x1="348.66" y1="880.9" x2="348.66" y2="886.9"/><text class="xl" transform="translate(353.16,896.4) rotate(-45)" text-anchor="end" style="font-size:10.85px">Normal overweight</text><line class="eb" x1="377.44" y1="764.75" x2="377.44" y2="769.05"/><line class="eb" x1="372.54" y1="764.75" x2="382.34" y2="764.75"/><rect x="369.49" y="769.05" width="15.9" height="111.85" fill="#2bb24a"/><path d="M369.49,880.9 V769.05 H385.39 V880.9" fill="none" stroke="#383636" stroke-width="2.7" stroke-linejoin="miter"/><line class="ax" x1="377.44" y1="880.9" x2="377.44" y2="886.9"/><text class="xl" transform="translate(381.94,896.4) rotate(-45)" text-anchor="end" style="font-size:10.85px">MASLD overweight</text><line class="eb" x1="406.22" y1="788.55" x2="406.22" y2="793.85"/><line class="eb" x1="401.32" y1="788.55" x2="411.12" y2="788.55"/><rect x="398.27" y="793.85" width="15.9" height="87.05" fill="#f59ac3"/><path d="M398.27,880.9 V793.85 H414.17 V880.9" fill="none" stroke="#383636" stroke-width="2.7" stroke-linejoin="miter"/><line class="ax" x1="406.22" y1="880.9" x2="406.22" y2="886.9"/><text class="xl" transform="translate(410.72,896.4) rotate(-45)" text-anchor="end" style="font-size:10.85px">Normal obesity</text><line class="eb" x1="435" y1="727.85" x2="435" y2="733.55"/><line class="eb" x1="430.1" y1="727.85" x2="439.9" y2="727.85"/><rect x="427.05" y="733.55" width="15.9" height="147.35" fill="#ee6293"/><path d="M427.05,880.9 V733.55 H442.95 V880.9" fill="none" stroke="#383636" stroke-width="2.7" stroke-linejoin="miter"/><line class="ax" x1="435" y1="880.9" x2="435" y2="886.9"/><text class="xl" transform="translate(439.5,896.4) rotate(-45)" text-anchor="end" style="font-size:10.85px">MASLD obesity</text><line class="ax" x1="277.1" y1="707.65" x2="277.1" y2="880.9"/><line class="ax" x1="269.8" y1="880.9" x2="449.9" y2="880.9"/><line class="ax" x1="269.8" y1="880.9" x2="277.1" y2="880.9"/><text class="tk" x="267.6" y="886.1" text-anchor="end" style="font-size:12.7px">0</text><line class="ax" x1="269.8" y1="837.8" x2="277.1" y2="837.8"/><text class="tk" x="267.6" y="843" text-anchor="end" style="font-size:12.7px">10</text><line class="ax" x1="269.8" y1="794.7" x2="277.1" y2="794.7"/><text class="tk" x="267.6" y="799.9" text-anchor="end" style="font-size:12.7px">20</text><line class="ax" x1="269.8" y1="751.6" x2="277.1" y2="751.6"/><text class="tk" x="267.6" y="756.8" text-anchor="end" style="font-size:12.7px">30</text><line class="ax" x1="269.8" y1="708.5" x2="277.1" y2="708.5"/><text class="tk" x="267.6" y="713.7" text-anchor="end" style="font-size:12.7px">40</text><line class="ax" x1="273.1" y1="859.35" x2="277.1" y2="859.35"/><line class="ax" x1="273.1" y1="816.25" x2="277.1" y2="816.25"/><line class="ax" x1="273.1" y1="773.15" x2="277.1" y2="773.15"/><line class="ax" x1="273.1" y1="730.05" x2="277.1" y2="730.05"/><line class="sig" x1="287.4" y1="765.7" x2="320.8" y2="765.7"/><g class="st"><line x1="293.3" y1="752.3" x2="293.3" y2="758.7"/><line x1="290.53" y1="753.9" x2="296.07" y2="757.1"/><line x1="296.07" y1="753.9" x2="290.53" y2="757.1"/><line x1="301" y1="752.3" x2="301" y2="758.7"/><line x1="298.23" y1="753.9" x2="303.77" y2="757.1"/><line x1="303.77" y1="753.9" x2="298.23" y2="757.1"/><line x1="308.7" y1="752.3" x2="308.7" y2="758.7"/><line x1="305.93" y1="753.9" x2="311.47" y2="757.1"/><line x1="311.47" y1="753.9" x2="305.93" y2="757.1"/></g><line class="sig" x1="346.5" y1="754.7" x2="379.8" y2="754.7"/><g class="st"><line x1="352.35" y1="741.3" x2="352.35" y2="747.7"/><line x1="349.58" y1="742.9" x2="355.12" y2="746.1"/><line x1="355.12" y1="742.9" x2="349.58" y2="746.1"/><line x1="360.05" y1="741.3" x2="360.05" y2="747.7"/><line x1="357.28" y1="742.9" x2="362.82" y2="746.1"/><line x1="362.82" y1="742.9" x2="357.28" y2="746.1"/><line x1="367.75" y1="741.3" x2="367.75" y2="747.7"/><line x1="364.98" y1="742.9" x2="370.52" y2="746.1"/><line x1="370.52" y1="742.9" x2="364.98" y2="746.1"/></g><line class="sig" x1="406.1" y1="719.7" x2="439.7" y2="719.7"/><g class="st"><line x1="412.1" y1="706.3" x2="412.1" y2="712.7"/><line x1="409.33" y1="707.9" x2="414.87" y2="711.1"/><line x1="414.87" y1="707.9" x2="409.33" y2="711.1"/><line x1="419.8" y1="706.3" x2="419.8" y2="712.7"/><line x1="417.03" y1="707.9" x2="422.57" y2="711.1"/><line x1="422.57" y1="707.9" x2="417.03" y2="711.1"/><line x1="427.5" y1="706.3" x2="427.5" y2="712.7"/><line x1="424.73" y1="707.9" x2="430.27" y2="711.1"/><line x1="430.27" y1="707.9" x2="424.73" y2="711.1"/></g></g>
<g><text class="ttl" x="54.6" y="1009.9" style="font-size:17.67px">Females aged 40-49</text><text class="yl" transform="translate(14.7,1123.3) rotate(-90)" text-anchor="middle" style="font-size:15.2px">ALT (U/L)</text><line class="eb" x1="62.5" y1="1139.85" x2="62.5" y2="1141.95"/><line class="eb" x1="57.6" y1="1139.85" x2="67.4" y2="1139.85"/><rect x="54.05" y="1141.95" width="16.9" height="72.55" fill="#c0bde1"/><path d="M54.05,1214.5 V1141.95 H70.95 V1214.5" fill="none" stroke="#383636" stroke-width="2.7" stroke-linejoin="miter"/><line class="ax" x1="62.5" y1="1214.5" x2="62.5" y2="1220.5"/><text class="xl" transform="translate(67,1230) rotate(-45)" text-anchor="end" style="font-size:11.3px">Normal BMI</text><line class="eb" x1="92.8" y1="1102.15" x2="92.8" y2="1107.15"/><line class="eb" x1="87.9" y1="1102.15" x2="97.7" y2="1102.15"/><rect x="84.35" y="1107.15" width="16.9" height="107.35" fill="#3a53a4"/><path d="M84.35,1214.5 V1107.15 H101.25 V1214.5" fill="none" stroke="#383636" stroke-width="2.7" stroke-linejoin="miter"/><line class="ax" x1="92.8" y1="1214.5" x2="92.8" y2="1220.5"/><text class="xl" transform="translate(97.3,1230) rotate(-45)" text-anchor="end" style="font-size:11.3px">MASLD</text><line class="eb" x1="123.1" y1="1129.05" x2="123.1" y2="1131.45"/><line class="eb" x1="118.2" y1="1129.05" x2="128" y2="1129.05"/><rect x="114.65" y="1131.45" width="16.9" height="83.05" fill="#add593"/><path d="M114.65,1214.5 V1131.45 H131.55 V1214.5" fill="none" stroke="#383636" stroke-width="2.7" stroke-linejoin="miter"/><line class="ax" x1="123.1" y1="1214.5" x2="123.1" y2="1220.5"/><text class="xl" transform="translate(127.6,1230) rotate(-45)" text-anchor="end" style="font-size:11.3px">Normal overweight</text><line class="eb" x1="153.4" y1="1097.95" x2="153.4" y2="1101.65"/><line class="eb" x1="148.5" y1="1097.95" x2="158.3" y2="1097.95"/><rect x="144.95" y="1101.65" width="16.9" height="112.85" fill="#2bb24a"/><path d="M144.95,1214.5 V1101.65 H161.85 V1214.5" fill="none" stroke="#383636" stroke-width="2.7" stroke-linejoin="miter"/><line class="ax" x1="153.4" y1="1214.5" x2="153.4" y2="1220.5"/><text class="xl" transform="translate(157.9,1230) rotate(-45)" text-anchor="end" style="font-size:11.3px">MASLD overweight</text><line class="eb" x1="183.7" y1="1124.55" x2="183.7" y2="1128.55"/><line class="eb" x1="178.8" y1="1124.55" x2="188.6" y2="1124.55"/><rect x="175.25" y="1128.55" width="16.9" height="85.95" fill="#f59ac3"/><path d="M175.25,1214.5 V1128.55 H192.15 V1214.5" fill="none" stroke="#383636" stroke-width="2.7" stroke-linejoin="miter"/><line class="ax" x1="183.7" y1="1214.5" x2="183.7" y2="1220.5"/><text class="xl" transform="translate(188.2,1230) rotate(-45)" text-anchor="end" style="font-size:11.3px">Normal obesity</text><line class="eb" x1="214" y1="1074.85" x2="214" y2="1079.55"/><line class="eb" x1="209.1" y1="1074.85" x2="218.9" y2="1074.85"/><rect x="205.55" y="1079.55" width="16.9" height="134.95" fill="#ee6293"/><path d="M205.55,1214.5 V1079.55 H222.45 V1214.5" fill="none" stroke="#383636" stroke-width="2.7" stroke-linejoin="miter"/><line class="ax" x1="214" y1="1214.5" x2="214" y2="1220.5"/><text class="xl" transform="translate(218.5,1230) rotate(-45)" text-anchor="end" style="font-size:11.3px">MASLD obesity</text><line class="ax" x1="47.2" y1="1031.95" x2="47.2" y2="1214.5"/><line class="ax" x1="39.9" y1="1214.5" x2="229.7" y2="1214.5"/><line class="ax" x1="39.9" y1="1214.5" x2="47.2" y2="1214.5"/><text class="tk" x="37.7" y="1219.7" text-anchor="end" style="font-size:14px">0</text><line class="ax" x1="39.9" y1="1169.08" x2="47.2" y2="1169.08"/><text class="tk" x="37.7" y="1174.28" text-anchor="end" style="font-size:14px">10</text><line class="ax" x1="39.9" y1="1123.65" x2="47.2" y2="1123.65"/><text class="tk" x="37.7" y="1128.85" text-anchor="end" style="font-size:14px">20</text><line class="ax" x1="39.9" y1="1078.22" x2="47.2" y2="1078.22"/><text class="tk" x="37.7" y="1083.42" text-anchor="end" style="font-size:14px">30</text><line class="ax" x1="39.9" y1="1032.8" x2="47.2" y2="1032.8"/><text class="tk" x="37.7" y="1038" text-anchor="end" style="font-size:14px">40</text><line class="ax" x1="43.2" y1="1191.79" x2="47.2" y2="1191.79"/><line class="ax" x1="43.2" y1="1146.36" x2="47.2" y2="1146.36"/><line class="ax" x1="43.2" y1="1100.94" x2="47.2" y2="1100.94"/><line class="ax" x1="43.2" y1="1055.51" x2="47.2" y2="1055.51"/><line class="sig" x1="60.5" y1="1093.4" x2="95.8" y2="1093.4"/><g class="st"><line x1="67.35" y1="1080" x2="67.35" y2="1086.4"/><line x1="64.58" y1="1081.6" x2="70.12" y2="1084.8"/><line x1="70.12" y1="1081.6" x2="64.58" y2="1084.8"/><line x1="75.05" y1="1080" x2="75.05" y2="1086.4"/><line x1="72.28" y1="1081.6" x2="77.82" y2="1084.8"/><line x1="77.82" y1="1081.6" x2="72.28" y2="1084.8"/><line x1="82.75" y1="1080" x2="82.75" y2="1086.4"/><line x1="79.98" y1="1081.6" x2="85.52" y2="1084.8"/><line x1="85.52" y1="1081.6" x2="79.98" y2="1084.8"/></g><line class="sig" x1="121.8" y1="1088.2" x2="156.9" y2="1088.2"/><g class="st"><line x1="128.55" y1="1074.8" x2="128.55" y2="1081.2"/><line x1="125.78" y1="1076.4" x2="131.32" y2="1079.6"/><line x1="131.32" y1="1076.4" x2="125.78" y2="1079.6"/><line x1="136.25" y1="1074.8" x2="136.25" y2="1081.2"/><line x1="133.48" y1="1076.4" x2="139.02" y2="1079.6"/><line x1="139.02" y1="1076.4" x2="133.48" y2="1079.6"/><line x1="143.95" y1="1074.8" x2="143.95" y2="1081.2"/><line x1="141.18" y1="1076.4" x2="146.72" y2="1079.6"/><line x1="146.72" y1="1076.4" x2="141.18" y2="1079.6"/></g><line class="sig" x1="182.3" y1="1064.9" x2="217.4" y2="1064.9"/><g class="st"><line x1="189.05" y1="1051.5" x2="189.05" y2="1057.9"/><line x1="186.28" y1="1053.1" x2="191.82" y2="1056.3"/><line x1="191.82" y1="1053.1" x2="186.28" y2="1056.3"/><line x1="196.75" y1="1051.5" x2="196.75" y2="1057.9"/><line x1="193.98" y1="1053.1" x2="199.52" y2="1056.3"/><line x1="199.52" y1="1053.1" x2="193.98" y2="1056.3"/><line x1="204.45" y1="1051.5" x2="204.45" y2="1057.9"/><line x1="201.68" y1="1053.1" x2="207.22" y2="1056.3"/><line x1="207.22" y1="1053.1" x2="201.68" y2="1056.3"/></g></g>
<g><text class="ttl" x="287.2" y="1009.9" style="font-size:17.61px">Females aged 50-64</text><text class="yl" transform="translate(247,1123.6) rotate(-90)" text-anchor="middle" style="font-size:15.2px">ALT (U/L)</text><line class="eb" x1="295.1" y1="1129.65" x2="295.1" y2="1131.95"/><line class="eb" x1="290.2" y1="1129.65" x2="300" y2="1129.65"/><rect x="286.7" y="1131.95" width="16.8" height="82.55" fill="#c0bde1"/><path d="M286.7,1214.5 V1131.95 H303.5 V1214.5" fill="none" stroke="#383636" stroke-width="2.7" stroke-linejoin="miter"/><line class="ax" x1="295.1" y1="1214.5" x2="295.1" y2="1220.5"/><text class="xl" transform="translate(299.6,1230) rotate(-45)" text-anchor="end" style="font-size:11.3px">Normal BMI</text><line class="eb" x1="325.37" y1="1101.75" x2="325.37" y2="1105.05"/><line class="eb" x1="320.47" y1="1101.75" x2="330.27" y2="1101.75"/><rect x="316.97" y="1105.05" width="16.8" height="109.45" fill="#3a53a4"/><path d="M316.97,1214.5 V1105.05 H333.77 V1214.5" fill="none" stroke="#383636" stroke-width="2.7" stroke-linejoin="miter"/><line class="ax" x1="325.37" y1="1214.5" x2="325.37" y2="1220.5"/><text class="xl" transform="translate(329.87,1230) rotate(-45)" text-anchor="end" style="font-size:11.3px">MASLD</text><line class="eb" x1="355.64" y1="1123.75" x2="355.64" y2="1126.25"/><line class="eb" x1="350.74" y1="1123.75" x2="360.54" y2="1123.75"/><rect x="347.24" y="1126.25" width="16.8" height="88.25" fill="#add593"/><path d="M347.24,1214.5 V1126.25 H364.04 V1214.5" fill="none" stroke="#383636" stroke-width="2.7" stroke-linejoin="miter"/><line class="ax" x1="355.64" y1="1214.5" x2="355.64" y2="1220.5"/><text class="xl" transform="translate(360.14,1230) rotate(-45)" text-anchor="end" style="font-size:11.3px">Normal overweight</text><line class="eb" x1="385.91" y1="1094.25" x2="385.91" y2="1097.15"/><line class="eb" x1="381.01" y1="1094.25" x2="390.81" y2="1094.25"/><rect x="377.51" y="1097.15" width="16.8" height="117.35" fill="#2bb24a"/><path d="M377.51,1214.5 V1097.15 H394.31 V1214.5" fill="none" stroke="#383636" stroke-width="2.7" stroke-linejoin="miter"/><line class="ax" x1="385.91" y1="1214.5" x2="385.91" y2="1220.5"/><text class="xl" transform="translate(390.41,1230) rotate(-45)" text-anchor="end" style="font-size:11.3px">MASLD overweight</text><line class="eb" x1="416.18" y1="1093.55" x2="416.18" y2="1107.35"/><line class="eb" x1="411.28" y1="1093.55" x2="421.08" y2="1093.55"/><rect x="407.78" y="1107.35" width="16.8" height="107.15" fill="#f59ac3"/><path d="M407.78,1214.5 V1107.35 H424.58 V1214.5" fill="none" stroke="#383636" stroke-width="2.7" stroke-linejoin="miter"/><line class="ax" x1="416.18" y1="1214.5" x2="416.18" y2="1220.5"/><text class="xl" transform="translate(420.68,1230) rotate(-45)" text-anchor="end" style="font-size:11.3px">Normal obesity</text><line class="eb" x1="446.45" y1="1079.75" x2="446.45" y2="1083.95"/><line class="eb" x1="441.55" y1="1079.75" x2="451.35" y2="1079.75"/><rect x="438.05" y="1083.95" width="16.8" height="130.55" fill="#ee6293"/><path d="M438.05,1214.5 V1083.95 H454.85 V1214.5" fill="none" stroke="#383636" stroke-width="2.7" stroke-linejoin="miter"/><line class="ax" x1="446.45" y1="1214.5" x2="446.45" y2="1220.5"/><text class="xl" transform="translate(450.95,1230) rotate(-45)" text-anchor="end" style="font-size:11.3px">MASLD obesity</text><line class="ax" x1="279.8" y1="1031.95" x2="279.8" y2="1214.5"/><line class="ax" x1="272.5" y1="1214.5" x2="461.9" y2="1214.5"/><line class="ax" x1="272.5" y1="1214.5" x2="279.8" y2="1214.5"/><text class="tk" x="270.3" y="1219.7" text-anchor="end" style="font-size:14px">0</text><line class="ax" x1="272.5" y1="1169.08" x2="279.8" y2="1169.08"/><text class="tk" x="270.3" y="1174.28" text-anchor="end" style="font-size:14px">10</text><line class="ax" x1="272.5" y1="1123.65" x2="279.8" y2="1123.65"/><text class="tk" x="270.3" y="1128.85" text-anchor="end" style="font-size:14px">20</text><line class="ax" x1="272.5" y1="1078.22" x2="279.8" y2="1078.22"/><text class="tk" x="270.3" y="1083.42" text-anchor="end" style="font-size:14px">30</text><line class="ax" x1="272.5" y1="1032.8" x2="279.8" y2="1032.8"/><text class="tk" x="270.3" y="1038" text-anchor="end" style="font-size:14px">40</text><line class="ax" x1="275.8" y1="1191.79" x2="279.8" y2="1191.79"/><line class="ax" x1="275.8" y1="1146.36" x2="279.8" y2="1146.36"/><line class="ax" x1="275.8" y1="1100.94" x2="279.8" y2="1100.94"/><line class="ax" x1="275.8" y1="1055.51" x2="279.8" y2="1055.51"/><line class="sig" x1="292.9" y1="1093.4" x2="328.4" y2="1093.4"/><g class="st"><line x1="299.85" y1="1080" x2="299.85" y2="1086.4"/><line x1="297.08" y1="1081.6" x2="302.62" y2="1084.8"/><line x1="302.62" y1="1081.6" x2="297.08" y2="1084.8"/><line x1="307.55" y1="1080" x2="307.55" y2="1086.4"/><line x1="304.78" y1="1081.6" x2="310.32" y2="1084.8"/><line x1="310.32" y1="1081.6" x2="304.78" y2="1084.8"/><line x1="315.25" y1="1080" x2="315.25" y2="1086.4"/><line x1="312.48" y1="1081.6" x2="318.02" y2="1084.8"/><line x1="318.02" y1="1081.6" x2="312.48" y2="1084.8"/></g><line class="sig" x1="354.2" y1="1084.5" x2="389.4" y2="1084.5"/><g class="st"><line x1="361" y1="1071.1" x2="361" y2="1077.5"/><line x1="358.23" y1="1072.7" x2="363.77" y2="1075.9"/><line x1="363.77" y1="1072.7" x2="358.23" y2="1075.9"/><line x1="368.7" y1="1071.1" x2="368.7" y2="1077.5"/><line x1="365.93" y1="1072.7" x2="371.47" y2="1075.9"/><line x1="371.47" y1="1072.7" x2="365.93" y2="1075.9"/><line x1="376.4" y1="1071.1" x2="376.4" y2="1077.5"/><line x1="373.63" y1="1072.7" x2="379.17" y2="1075.9"/><line x1="379.17" y1="1072.7" x2="373.63" y2="1075.9"/></g><line class="sig" x1="412.8" y1="1070.6" x2="448.3" y2="1070.6"/><text class="ns" x="430.55" y="1062.1" text-anchor="middle">ns</text></g>
<g><text class="ttl" x="522.7" y="1008.4" style="font-size:16.55px">Females aged</text><text class="ttl" x="651.6" y="1008.4" style="font-size:16.55px">65</text><path class="geq" d="M640,996.1 L652.6,1000.5 L640,1004.4 M640,1008.15 L652.4,1003.7"/><text class="yl" transform="translate(478.4,1116.4) rotate(-90)" text-anchor="middle" style="font-size:14.5px">ALT (U/L)</text><line class="eb" x1="523.6" y1="1122.95" x2="523.6" y2="1126.55"/><line class="eb" x1="518.7" y1="1122.95" x2="528.5" y2="1122.95"/><rect x="515.6" y="1126.55" width="16" height="75.85" fill="#c0bde1"/><path d="M515.6,1202.4 V1126.55 H531.6 V1202.4" fill="none" stroke="#383636" stroke-width="2.7" stroke-linejoin="miter"/><line class="ax" x1="523.6" y1="1202.4" x2="523.6" y2="1208.4"/><text class="xl" transform="translate(528.1,1217.9) rotate(-45)" text-anchor="end" style="font-size:10.85px">Normal BMI</text><line class="eb" x1="552.4" y1="1102.55" x2="552.4" y2="1107.95"/><line class="eb" x1="547.5" y1="1102.55" x2="557.3" y2="1102.55"/><rect x="544.4" y="1107.95" width="16" height="94.45" fill="#3a53a4"/><path d="M544.4,1202.4 V1107.95 H560.4 V1202.4" fill="none" stroke="#383636" stroke-width="2.7" stroke-linejoin="miter"/><line class="ax" x1="552.4" y1="1202.4" x2="552.4" y2="1208.4"/><text class="xl" transform="translate(556.9,1217.9) rotate(-45)" text-anchor="end" style="font-size:10.85px">MASLD</text><line class="eb" x1="581.2" y1="1124.85" x2="581.2" y2="1127.65"/><line class="eb" x1="576.3" y1="1124.85" x2="586.1" y2="1124.85"/><rect x="573.2" y="1127.65" width="16" height="74.75" fill="#add593"/><path d="M573.2,1202.4 V1127.65 H589.2 V1202.4" fill="none" stroke="#383636" stroke-width="2.7" stroke-linejoin="miter"/><line class="ax" x1="581.2" y1="1202.4" x2="581.2" y2="1208.4"/><text class="xl" transform="translate(585.7,1217.9) rotate(-45)" text-anchor="end" style="font-size:10.85px">Normal overweight</text><line class="eb" x1="610" y1="1100.75" x2="610" y2="1105.45"/><line class="eb" x1="605.1" y1="1100.75" x2="614.9" y2="1100.75"/><rect x="602" y="1105.45" width="16" height="96.95" fill="#2bb24a"/><path d="M602,1202.4 V1105.45 H618 V1202.4" fill="none" stroke="#383636" stroke-width="2.7" stroke-linejoin="miter"/><line class="ax" x1="610" y1="1202.4" x2="610" y2="1208.4"/><text class="xl" transform="translate(614.5,1217.9) rotate(-45)" text-anchor="end" style="font-size:10.85px">MASLD overweight</text><line class="eb" x1="638.8" y1="1124.45" x2="638.8" y2="1129.85"/><line class="eb" x1="633.9" y1="1124.45" x2="643.7" y2="1124.45"/><rect x="630.8" y="1129.85" width="16" height="72.55" fill="#f59ac3"/><path d="M630.8,1202.4 V1129.85 H646.8 V1202.4" fill="none" stroke="#383636" stroke-width="2.7" stroke-linejoin="miter"/><line class="ax" x1="638.8" y1="1202.4" x2="638.8" y2="1208.4"/><text class="xl" transform="translate(643.3,1217.9) rotate(-45)" text-anchor="end" style="font-size:10.85px">Normal obesity</text><line class="eb" x1="667.6" y1="1092.75" x2="667.6" y2="1097.75"/><line class="eb" x1="662.7" y1="1092.75" x2="672.5" y2="1092.75"/><rect x="659.6" y="1097.75" width="16" height="104.65" fill="#ee6293"/><path d="M659.6,1202.4 V1097.75 H675.6 V1202.4" fill="none" stroke="#383636" stroke-width="2.7" stroke-linejoin="miter"/><line class="ax" x1="667.6" y1="1202.4" x2="667.6" y2="1208.4"/><text class="xl" transform="translate(672.1,1217.9) rotate(-45)" text-anchor="end" style="font-size:10.85px">MASLD obesity</text><line class="ax" x1="509.9" y1="1029.35" x2="509.9" y2="1202.4"/><line class="ax" x1="502.6" y1="1202.4" x2="682.5" y2="1202.4"/><line class="ax" x1="502.6" y1="1202.4" x2="509.9" y2="1202.4"/><text class="tk" x="500.4" y="1207.6" text-anchor="end" style="font-size:13.2px">0</text><line class="ax" x1="502.6" y1="1159.35" x2="509.9" y2="1159.35"/><text class="tk" x="500.4" y="1164.55" text-anchor="end" style="font-size:13.2px">10</text><line class="ax" x1="502.6" y1="1116.3" x2="509.9" y2="1116.3"/><text class="tk" x="500.4" y="1121.5" text-anchor="end" style="font-size:13.2px">20</text><line class="ax" x1="502.6" y1="1073.25" x2="509.9" y2="1073.25"/><text class="tk" x="500.4" y="1078.45" text-anchor="end" style="font-size:13.2px">30</text><line class="ax" x1="502.6" y1="1030.2" x2="509.9" y2="1030.2"/><text class="tk" x="500.4" y="1035.4" text-anchor="end" style="font-size:13.2px">40</text><line class="ax" x1="505.9" y1="1180.88" x2="509.9" y2="1180.88"/><line class="ax" x1="505.9" y1="1137.83" x2="509.9" y2="1137.83"/><line class="ax" x1="505.9" y1="1094.78" x2="509.9" y2="1094.78"/><line class="ax" x1="505.9" y1="1051.73" x2="509.9" y2="1051.73"/><line class="sig" x1="522.3" y1="1094.4" x2="556.2" y2="1094.4"/><g class="st"><line x1="528.45" y1="1081" x2="528.45" y2="1087.4"/><line x1="525.68" y1="1082.6" x2="531.22" y2="1085.8"/><line x1="531.22" y1="1082.6" x2="525.68" y2="1085.8"/><line x1="536.15" y1="1081" x2="536.15" y2="1087.4"/><line x1="533.38" y1="1082.6" x2="538.92" y2="1085.8"/><line x1="538.92" y1="1082.6" x2="533.38" y2="1085.8"/><line x1="543.85" y1="1081" x2="543.85" y2="1087.4"/><line x1="541.08" y1="1082.6" x2="546.62" y2="1085.8"/><line x1="546.62" y1="1082.6" x2="541.08" y2="1085.8"/></g><line class="sig" x1="580.3" y1="1093.3" x2="613.8" y2="1093.3"/><g class="st"><line x1="586.25" y1="1079.9" x2="586.25" y2="1086.3"/><line x1="583.48" y1="1081.5" x2="589.02" y2="1084.7"/><line x1="589.02" y1="1081.5" x2="583.48" y2="1084.7"/><line x1="593.95" y1="1079.9" x2="593.95" y2="1086.3"/><line x1="591.18" y1="1081.5" x2="596.72" y2="1084.7"/><line x1="596.72" y1="1081.5" x2="591.18" y2="1084.7"/><line x1="601.65" y1="1079.9" x2="601.65" y2="1086.3"/><line x1="598.88" y1="1081.5" x2="604.42" y2="1084.7"/><line x1="604.42" y1="1081.5" x2="598.88" y2="1084.7"/></g><line class="sig" x1="638.3" y1="1085.4" x2="672.2" y2="1085.4"/><g class="st"><line x1="644.45" y1="1072" x2="644.45" y2="1078.4"/><line x1="641.68" y1="1073.6" x2="647.22" y2="1076.8"/><line x1="647.22" y1="1073.6" x2="641.68" y2="1076.8"/><line x1="652.15" y1="1072" x2="652.15" y2="1078.4"/><line x1="649.38" y1="1073.6" x2="654.92" y2="1076.8"/><line x1="654.92" y1="1073.6" x2="649.38" y2="1076.8"/><line x1="659.85" y1="1072" x2="659.85" y2="1078.4"/><line x1="657.08" y1="1073.6" x2="662.62" y2="1076.8"/><line x1="662.62" y1="1073.6" x2="657.08" y2="1076.8"/></g></g>
<g><rect x="495.3" y="45.7" width="16.5" height="6.8" fill="#c0bde1" stroke="#383636" stroke-width="2.4"/><text class="lg" x="524.1" y="53.85" style="font-size:14.46px">Normal BMI</text><rect x="495.3" y="69.7" width="16.5" height="6.8" fill="#3a53a4" stroke="#383636" stroke-width="2.4"/><text class="lg" x="524.1" y="77.85" style="font-size:14.46px">MASLD</text><rect x="495.3" y="93.7" width="16.5" height="6.8" fill="#add593" stroke="#383636" stroke-width="2.4"/><text class="lg" x="524.1" y="101.85" style="font-size:14.46px">Normal overweight</text><rect x="495.3" y="118" width="16.5" height="6.8" fill="#2bb24a" stroke="#383636" stroke-width="2.4"/><text class="lg" x="524.1" y="126.15" style="font-size:14.46px">MASLD overweight</text><rect x="495.3" y="142.2" width="16.5" height="6.8" fill="#f59ac3" stroke="#383636" stroke-width="2.4"/><text class="lg" x="524.1" y="150.35" style="font-size:14.46px">Normal obesity</text><rect x="495.3" y="166.2" width="16.5" height="6.8" fill="#ee6293" stroke="#383636" stroke-width="2.4"/><text class="lg" x="524.1" y="174.35" style="font-size:14.46px">MASLD obesity</text></g>
<g><rect x="490" y="716.75" width="15.9" height="6.5" fill="#c0bde1" stroke="#383636" stroke-width="2.4"/><text class="lg" x="517.2" y="724.6" style="font-size:13.97px">Normal BMI</text><rect x="490" y="740.05" width="15.9" height="6.5" fill="#3a53a4" stroke="#383636" stroke-width="2.4"/><text class="lg" x="517.2" y="747.9" style="font-size:13.97px">MASLD</text><rect x="490" y="763.45" width="15.9" height="6.5" fill="#add593" stroke="#383636" stroke-width="2.4"/><text class="lg" x="517.2" y="771.3" style="font-size:13.97px">Normal overweight</text><rect x="490" y="786.45" width="15.9" height="6.5" fill="#2bb24a" stroke="#383636" stroke-width="2.4"/><text class="lg" x="517.2" y="794.3" style="font-size:13.97px">MASLD overweight</text><rect x="490" y="810.05" width="15.9" height="6.5" fill="#f59ac3" stroke="#383636" stroke-width="2.4"/><text class="lg" x="517.2" y="817.9" style="font-size:13.97px">Normal obesity</text><rect x="490" y="833.45" width="15.9" height="6.5" fill="#ee6293" stroke="#383636" stroke-width="2.4"/><text class="lg" x="517.2" y="841.3" style="font-size:13.97px">MASLD obesity</text></g>
</svg>
</body></html>
